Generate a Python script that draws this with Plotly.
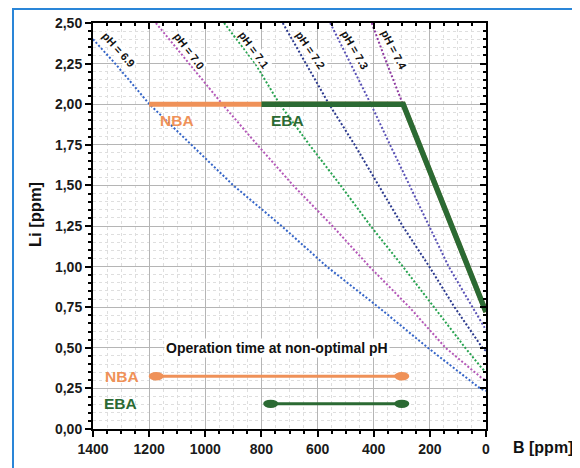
import plotly.graph_objects as go

# ---------------- data ----------------
X_RANGE = [1400, 0]
Y_RANGE = [0, 2.5]

ph_names = ["pH = 6.9", "pH = 7.0", "pH = 7.1", "pH = 7.2", "pH = 7.3", "pH = 7.4"]
ph_colors = ["#3565c8", "#b458b8", "#27a350", "#2c3a8e", "#5a52b6", "#8e3aa0"]

B_69 = [1400, 1321, 1199, 1048, 900, 728, 567, 383, 207, 21, 0]
Li_69 = [2.40, 2.25, 2.00, 1.75, 1.50, 1.25, 1.00, 0.75, 0.50, 0.25, 0.235]

B_70 = [1176, 1058, 939, 815, 687, 547, 415, 273, 144, 16, 0]
Li_70 = [2.50, 2.25, 2.00, 1.75, 1.50, 1.25, 1.00, 0.75, 0.50, 0.315, 0.30]

B_71 = [933, 822, 735, 629, 518, 411, 296, 185, 74, 16, 0]
Li_71 = [2.50, 2.25, 2.00, 1.75, 1.50, 1.25, 1.00, 0.75, 0.50, 0.377, 0.35]

B_72 = [724, 642, 559, 468, 381, 297, 202, 112, 13, 0]
Li_72 = [2.50, 2.25, 2.00, 1.75, 1.50, 1.25, 1.00, 0.75, 0.50, 0.48]

B_73 = [555, 483, 410, 342, 273, 202, 133, 48, 16, 0]
Li_73 = [2.50, 2.25, 2.00, 1.75, 1.50, 1.25, 1.00, 0.75, 0.655, 0.61]

B_74 = [407, 353, 296, 150, 0]
Li_74 = [2.50, 2.25, 2.00, 1.37, 0.72]

ph_B = [B_69, B_70, B_71, B_72, B_73, B_74]
ph_Li = [Li_69, Li_70, Li_71, Li_72, Li_73, Li_74]

# label positions / angles for pH curves
ph_label_B = [1308, 1057, 826, 626, 466, 328]
ph_label_Li = [2.332, 2.328, 2.336, 2.332, 2.336, 2.332]
ph_label_angle = [48, 53, 54, 56, 60, 63]

# operating lines
NBA_B = [1200, 295, 0]
NBA_Li = [2.00, 2.00, 0.72]
EBA_B = [800, 295, 0]
EBA_Li = [2.00, 2.00, 0.72]

# operation time bars
NBA_bar_B = [1175, 300]
NBA_bar_Li = [0.325, 0.325]
EBA_bar_B = [767, 300]
EBA_bar_Li = [0.155, 0.155]

ORANGE = "#ef9158"
DGREEN = "#2b6a33"

# ---------------- figure ----------------
fig = go.Figure()

for name, col, bx, ly in zip(ph_names, ph_colors, ph_B, ph_Li):
    fig.add_trace(go.Scatter(x=bx, y=ly, mode="lines", name=name,
                             line=dict(color=col, width=2, dash="2px,2px"),
                             showlegend=False, hoverinfo="skip"))

fig.add_trace(go.Scatter(x=NBA_B, y=NBA_Li, mode="lines",
                         line=dict(color=ORANGE, width=5), showlegend=False))
fig.add_trace(go.Scatter(x=EBA_B, y=EBA_Li, mode="lines",
                         line=dict(color=DGREEN, width=5.5), showlegend=False))

fig.add_trace(go.Scatter(x=NBA_bar_B, y=NBA_bar_Li, mode="lines",
                         line=dict(color=ORANGE, width=3), showlegend=False))
fig.add_trace(go.Scatter(x=EBA_bar_B, y=EBA_bar_Li, mode="lines",
                         line=dict(color=DGREEN, width=3), showlegend=False))

# helper invisible traces for mirrored axes with inside ticks
fig.add_trace(go.Scatter(x=[X_RANGE[0]], y=[Y_RANGE[0]], xaxis="x2", yaxis="y",
                         mode="markers", marker=dict(opacity=0),
                         showlegend=False, hoverinfo="skip"))
fig.add_trace(go.Scatter(x=[X_RANGE[0]], y=[Y_RANGE[0]], xaxis="x", yaxis="y2",
                         mode="markers", marker=dict(opacity=0),
                         showlegend=False, hoverinfo="skip"))

# layout geometry (page has an 8px body margin)
OFF = 8
L, R, T, Bm = 85, 102, 15, 47
PW, PH = 580 - L - R, 468 - T - Bm


def px(sx):
    return (sx - OFF - L) / PW


def py(sy):
    return (468 - Bm - (sy - OFF)) / PH


# ellipse end markers
shapes = []
for bx, ly, col in [(NBA_bar_B, NBA_bar_Li, ORANGE), (EBA_bar_B, EBA_bar_Li, DGREEN)]:
    for xv, yv in zip(bx, ly):
        shapes.append(dict(type="circle", xref="x", yref="y",
                           xsizemode="pixel", ysizemode="pixel",
                           xanchor=xv, yanchor=yv,
                           x0=-7.5, x1=7.5, y0=-4.2, y1=4.2,
                           fillcolor=col, line=dict(width=0)))

# outer blue frame
shapes.append(dict(type="rect", xref="paper", yref="paper",
                   x0=px(13), x1=px(577),
                   y0=-0.5, y1=py(9),
                   line=dict(color="#2a86d8", width=2), fillcolor="rgba(0,0,0,0)",
                   layer="below"))

FONT = "Liberation Sans, Arial, sans-serif"
tickfont = dict(family=FONT, size=14, color="#1a1a1a", weight="bold")

annotations = []
for txt, bx, ly, ang in zip(ph_names, ph_label_B, ph_label_Li, ph_label_angle):
    annotations.append(dict(x=bx, y=ly, xref="x", yref="y", text=txt,
                            showarrow=False, textangle=ang, bgcolor="white",
                            borderpad=0,
                            font=dict(family=FONT, size=11, color="#111", weight="bold")))

annotations += [
    dict(x=1102, y=1.90, xref="x", yref="y", text="NBA", showarrow=False,
         font=dict(family=FONT, size=15.5, color=ORANGE, weight="bold")),
    dict(x=706, y=1.90, xref="x", yref="y", text="EBA", showarrow=False,
         font=dict(family=FONT, size=15.5, color=DGREEN, weight="bold")),
    dict(x=1296, y=0.325, xref="x", yref="y", text="NBA", showarrow=False,
         font=dict(family=FONT, size=15.5, color=ORANGE, weight="bold")),
    dict(x=1303, y=0.155, xref="x", yref="y", text="EBA", showarrow=False,
         font=dict(family=FONT, size=15.5, color=DGREEN, weight="bold")),
    dict(x=745, y=0.50, xref="x", yref="y", text="Operation time at non-optimal pH",
         showarrow=False, bgcolor="white", borderpad=1,
         font=dict(family=FONT, size=14, color="#111", weight="bold")),
    dict(x=px(35), y=py(215), xref="paper", yref="paper",
         xanchor="center", yanchor="middle",
         text="Li [ppm]", textangle=-90, showarrow=False,
         font=dict(family=FONT, size=16.5, color="#111", weight="bold")),
    dict(x=px(511), y=py(447), xref="paper", yref="paper",
         text="B [ppm]", xanchor="left", yanchor="middle", showarrow=False,
         font=dict(family=FONT, size=16, color="#111", weight="bold")),
]

common = dict(showline=True, linecolor="black", linewidth=2, zeroline=False)

fig.update_layout(
    width=580, height=468,
    margin=dict(l=L, r=R, t=T, b=Bm, autoexpand=False),
    paper_bgcolor="white", plot_bgcolor="white",
    separators=",.",
    showlegend=False,
    shapes=shapes,
    annotations=annotations,
    xaxis=dict(range=X_RANGE, dtick=200, tick0=0, ticks="outside", ticklen=6,
               tickwidth=1.5, tickcolor="black", tickfont=tickfont,
               showgrid=True, gridcolor="#b5b5b5", gridwidth=1,
               minor=dict(dtick=50, ticks="outside", ticklen=3, tickcolor="black",
                          showgrid=True, gridcolor="#dedede", griddash="dot", gridwidth=1),
               **common),
    yaxis=dict(range=Y_RANGE, dtick=0.25, tick0=0, tickformat=".2f", ticks="outside",
               ticklen=6, tickwidth=1.5, tickcolor="black", tickfont=tickfont,
               showgrid=True, gridcolor="#b5b5b5", gridwidth=1,
               minor=dict(dtick=0.05, ticks="outside", ticklen=3, tickcolor="black",
                          showgrid=True, gridcolor="#dedede", griddash="dot", gridwidth=1),
               **common),
    xaxis2=dict(range=X_RANGE, overlaying="x", side="top", anchor="y", dtick=200, tick0=0,
                ticks="inside", ticklen=6, tickwidth=1.5, tickcolor="black",
                showticklabels=False, showgrid=False,
                minor=dict(dtick=50, ticks="inside", ticklen=3, tickcolor="black", showgrid=False),
                **common),
    yaxis2=dict(range=Y_RANGE, overlaying="y", side="right", anchor="x", dtick=0.25, tick0=0,
                ticks="inside", ticklen=6, tickwidth=1.5, tickcolor="black",
                showticklabels=False, showgrid=False,
                minor=dict(dtick=0.05, ticks="inside", ticklen=3, tickcolor="black", showgrid=False),
                **common),
)

fig.write_html("out.html")
